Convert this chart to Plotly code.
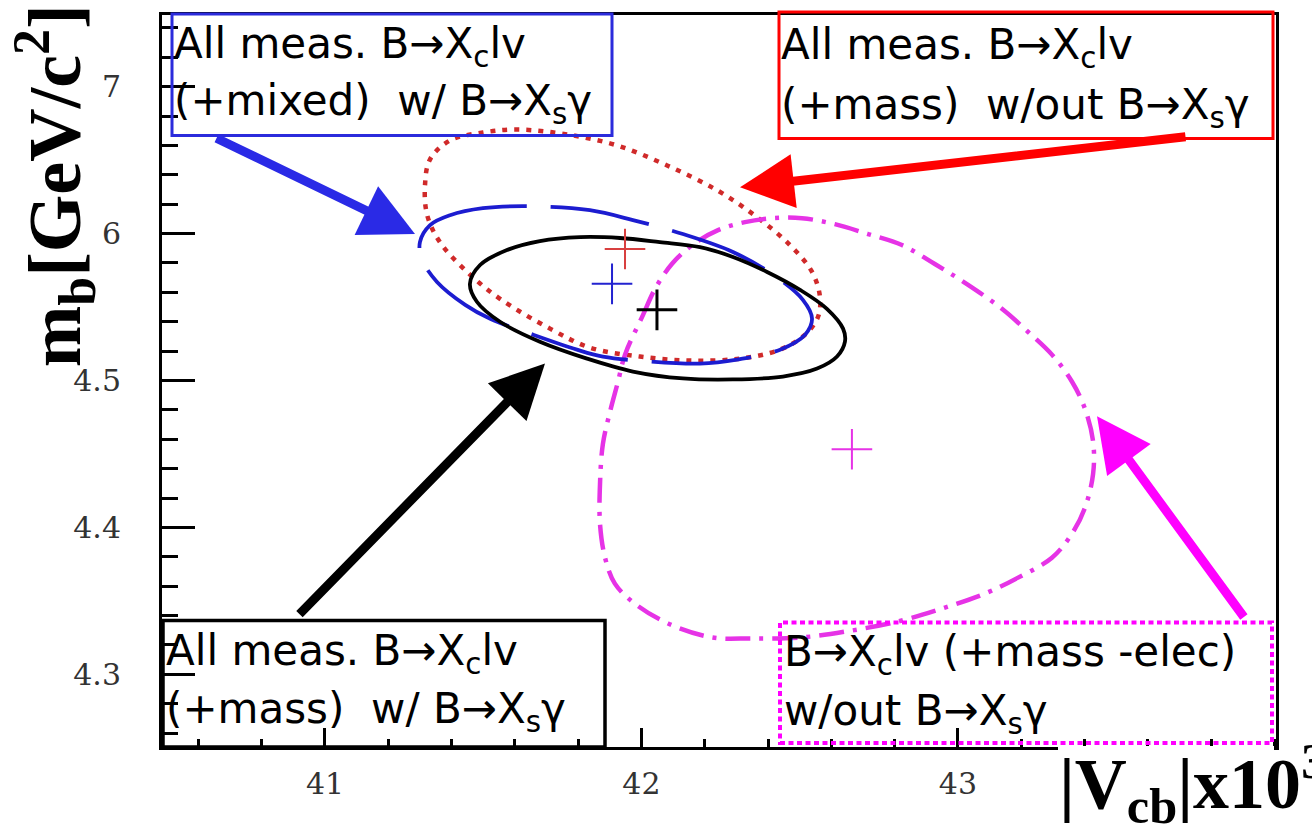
import plotly.graph_objects as go

# ---------------------------------------------------------------------------
# Fit contours in the (|Vcb| x 10^3, m_b) plane
# ---------------------------------------------------------------------------
vcb_ticks = [41, 42, 43]
mb_ticks = [4.3, 4.4, 4.5, 4.6, 4.7]
mb_tick_text = ["4.3", "4.4", "4.5", "6", "7"]

# All meas. B->Xc l v (+mass) with B->Xs gamma  (solid black)
mass_bsg_vcb = [41.458, 41.490, 41.575, 41.679, 41.806, 41.932, 42.058, 42.185,
                42.289, 42.397, 42.501, 42.586, 42.637, 42.643, 42.618, 42.555,
                42.447, 42.289, 42.131, 41.973, 41.828, 41.679, 41.553, 41.480]
mass_bsg_mb = [4.5658, 4.5786, 4.5888, 4.5949, 4.5976, 4.5970, 4.5942, 4.5908,
               4.5841, 4.5739, 4.5617, 4.5488, 4.5353, 4.5264, 4.5163, 4.5081,
               4.5027, 4.5007, 4.5014, 4.5061, 4.5149, 4.5264, 4.5400, 4.5536]
mass_bsg_best = [42.049, 4.5481]

# All meas. B->Xc l v (+mixed) with B->Xs gamma  (blue long dash)
mixed_bsg_vcb = [41.300, 41.332, 41.395, 41.499, 41.657, 41.837, 41.973, 42.131,
                 42.289, 42.416, 42.510, 42.539, 42.517, 42.438, 42.302, 42.185,
                 42.027, 41.878, 41.796, 41.657, 41.522, 41.443, 41.354, 41.306]
mixed_bsg_mb = [4.5942, 4.6058, 4.6125, 4.6173, 4.6186, 4.6159, 4.6092, 4.5997,
                4.5875, 4.5719, 4.5549, 4.5420, 4.5312, 4.5210, 4.5142, 4.5115,
                4.5129, 4.5163, 4.5210, 4.5312, 4.5420, 4.5515, 4.5671, 4.5827]
mixed_bsg_best = [41.907, 4.5658]

# All meas. B->Xc l v (+mass) without B->Xs gamma  (red dotted)
mass_nobsg_vcb = [41.323, 41.316, 41.332, 41.395, 41.499, 41.607, 41.765, 41.923,
                  42.081, 42.239, 42.365, 42.469, 42.539, 42.564, 42.558, 42.517,
                  42.438, 42.311, 42.153, 41.995, 41.837, 41.711, 41.553, 41.449,
                  41.363]
mass_nobsg_mb = [4.6125, 4.6329, 4.6505, 4.6634, 4.6688, 4.6708, 4.6675, 4.6600,
                 4.6464, 4.6295, 4.6112, 4.5922, 4.5739, 4.5569, 4.5434, 4.5312,
                 4.5210, 4.5149, 4.5136, 4.5163, 4.5224, 4.5353, 4.5556, 4.5739,
                 4.5942]
mass_nobsg_best = [41.948, 4.5895]

# B->Xc l v (+mass -elec) without B->Xs gamma  (magenta dash-dot)
noelec_vcb = [41.948, 42.005, 42.043, 42.096, 42.160, 42.242, 42.327, 42.412,
              42.507, 42.611, 42.716, 42.823, 42.927, 43.032, 43.139, 43.221,
              43.297, 43.360, 43.401, 43.427, 43.427, 43.401, 43.360, 43.297,
              43.190, 43.085, 42.959, 42.823, 42.665, 42.507, 42.349, 42.223,
              42.084, 41.979, 41.916, 41.885, 41.869, 41.869, 41.878, 41.901,
              41.926]
noelec_mb = [4.5176, 4.5447, 4.5624, 4.5793, 4.5922, 4.6024, 4.6078, 4.6105,
             4.6105, 4.6064, 4.5997, 4.5922, 4.5793, 4.5651, 4.5488, 4.5332,
             4.5176, 4.4993, 4.4810, 4.4586, 4.4363, 4.4132, 4.3956, 4.3793,
             4.3658, 4.3549, 4.3454, 4.3366, 4.3298, 4.3251, 4.3244, 4.3251,
             4.3346, 4.3481, 4.3617, 4.3793, 4.4024, 4.4295, 4.4566, 4.4790,
             4.4993]
noelec_best = [42.665, 4.4532]

# ---------------------------------------------------------------------------
# Page geometry (pixels) for the plot frame, used to place boxes and labels
# ---------------------------------------------------------------------------
W, H = 1312, 840
PL, PT, PW, PH = 162, 12, 1114, 735


def fx(p):
    return (p - PL) / PW


def fy(p):
    return (PT + PH - p) / PH


def closed(a):
    return list(a) + [a[0]]


fig = go.Figure()

curves = [
    (mass_nobsg_vcb, mass_nobsg_mb, "#d02a2a", 4.5, "5px,7px"),
    (noelec_vcb, noelec_mb, "#e633e6", 4.5, "25px,9px,4px,9px"),
    (mixed_bsg_vcb, mixed_bsg_mb, "#1c1cd0", 3.8, "100px,24px"),
    (mass_bsg_vcb, mass_bsg_mb, "#000000", 3.8, "solid"),
]
for vx, vy, col, lw, dash in curves:
    fig.add_trace(go.Scatter(
        x=closed(vx), y=closed(vy), mode="lines",
        line=dict(color=col, width=lw, dash=dash, shape="spline", smoothing=1.0),
        hoverinfo="skip", showlegend=False,
    ))

centers = [
    (mass_nobsg_best, "#d84040", 2),
    (mixed_bsg_best, "#2323d0", 2),
    (mass_bsg_best, "#000000", 3),
    (noelec_best, "#e633e6", 2),
]
for (cx, cy), col, lw in centers:
    fig.add_trace(go.Scatter(
        x=[cx], y=[cy], mode="markers",
        marker=dict(symbol="cross-thin", size=29, color=col,
                    line=dict(color=col, width=lw)),
        hoverinfo="skip", showlegend=False,
    ))

tick_font = dict(family="DejaVu Serif", size=30, color="#333333")

fig.update_xaxes(
    range=[40.485, 44.005], tickvals=vcb_ticks, ticktext=[str(v) for v in vcb_ticks],
    ticks="inside", ticklen=19, tickwidth=2.5, tickcolor="black",
    minor=dict(dtick=0.2, tick0=41, ticks="inside", ticklen=8, tickwidth=2.5,
               tickcolor="black", showgrid=False),
    showline=True, linecolor="black", linewidth=3, mirror=True,
    showgrid=False, zeroline=False, tickfont=tick_font, ticklabelstandoff=8,
)
fig.update_yaxes(
    range=[4.2505, 4.7488], tickvals=mb_ticks, ticktext=mb_tick_text,
    ticks="inside", ticklen=33, tickwidth=2.5, tickcolor="black",
    minor=dict(dtick=0.02, tick0=4.3, ticks="inside", ticklen=16, tickwidth=2.5,
               tickcolor="black", showgrid=False),
    showline=True, linecolor="black", linewidth=3, mirror=True,
    showgrid=False, zeroline=False, tickfont=tick_font, ticklabelstandoff=32,
)

# Framed captions for each contour
boxes = [
    (172, 11, 612, 133, "#2b2bdc", 3, "solid"),
    (779, 9, 1273, 136, "#ff0000", 3, "solid"),
    (163, 620, 605, 747, "#000000", 3.5, "solid"),
    (780, 622, 1272, 743, "#ff00ff", 4, "5px,3.5px"),
]
shapes = [
    # the lower frame line is hidden under the horizontal axis title
    dict(type="rect", xref="paper", yref="paper", x0=fx(1058), x1=fx(1274),
         y0=fy(753), y1=fy(746), line=dict(width=0), fillcolor="white", layer="above"),
]
for x0, y0, x1, y1, col, lw, dash in boxes:
    shapes.append(dict(type="rect", xref="paper", yref="paper",
                       x0=fx(x0), x1=fx(x1), y0=fy(y1), y1=fy(y0),
                       line=dict(color=col, width=lw, dash=dash),
                       fillcolor="rgba(0,0,0,0)", layer="above"))

box_font = dict(family="DejaVu Sans", size=42, color="black")
caption_lines = [
    (175, 44, "All meas. B→X<sub>c</sub>lv"),
    (175, 101, "(+mixed)\u00a0 w/ B→X<sub>s</sub>γ"),
    (782, 45, "All meas. B→X<sub>c</sub>lv"),
    (782, 105, "(+mass)\u00a0 w/out B→X<sub>s</sub>γ"),
    (167, 653, "All meas. B→X<sub>c</sub>lv"),
    (167, 711, "(+mass)\u00a0 w/ B→X<sub>s</sub>γ"),
    (785, 654, "B→X<sub>c</sub>lv (+mass -elec)"),
    (785, 713, "w/out B→X<sub>s</sub>γ"),
]
annotations = []
for x, y, txt in caption_lines:
    annotations.append(dict(xref="paper", yref="paper", x=fx(x - 3), y=fy(y),
                            xanchor="left", yanchor="middle", text=txt,
                            showarrow=False, font=box_font, align="left"))

# Arrows from each caption to its contour (tail -> tip, in pixels)
arrows = [
    ((215, 135), (415, 232), "#2a2ae6"),
    ((1187, 134), (740, 185), "#ff0000"),
    ((298, 615), (545, 362), "#000000"),
    ((1245, 618), (1097, 415), "#ff00ff"),
]
for (tx, ty), (hx, hy), col in arrows:
    annotations.append(dict(
        xref="x domain", yref="y domain", axref="x domain", ayref="y domain",
        x=fx(hx), y=fy(hy), ax=fx(tx), ay=fy(ty), text="", showarrow=True,
        arrowhead=2, arrowsize=1.2, arrowwidth=9, arrowcolor=col, standoff=0,
    ))

# Axis titles
annotations.append(dict(
    xref="paper", yref="paper", x=fx(1057), y=fy(731), xanchor="left", yanchor="top",
    text="|V<sub>cb</sub>|x10<sup>3</sup>", showarrow=False,
    font=dict(family="Liberation Serif", size=72, color="black", weight="bold"),
))
annotations.append(dict(
    xref="paper", yref="paper", x=fx(55), y=fy(184), xanchor="center", yanchor="middle",
    text="m<sub>b</sub>[GeV/c<sup>2</sup>]", textangle=-90, showarrow=False,
    font=dict(family="Liberation Serif", size=74, color="black", weight="bold"),
))

fig.update_layout(
    width=W, height=H,
    margin=dict(l=PL, r=W - PL - PW, t=PT, b=H - PT - PH),
    paper_bgcolor="white", plot_bgcolor="white",
    shapes=shapes, annotations=annotations, showlegend=False,
)

fig.write_html("out.html")
